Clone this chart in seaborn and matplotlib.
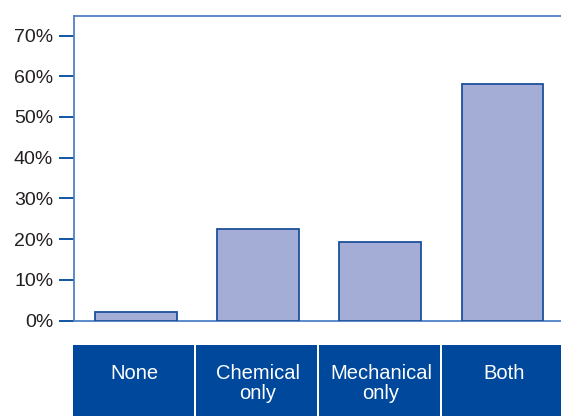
import matplotlib
matplotlib.use("Agg")
import matplotlib.pyplot as plt
import seaborn as sns
import pandas as pd
from matplotlib.ticker import FuncFormatter

# Share of respondents by type of control used
categories = ["None", "Chemical\nonly", "Mechanical\nonly", "Both"]
shares = [2.0, 22.4, 19.2, 58.2]
yticks = [0, 10, 20, 30, 40, 50, 60, 70]

sns.set_theme(style="white")
plt.rcParams["font.family"] = ["Liberation Sans", "DejaVu Sans"]

FILL = "#a3add6"
EDGE = "#1d4f9c"
SPINE = "#4f81c4"
BAND = "#00489b"
TEXT = "#231f20"

W, H = 561, 416
df = pd.DataFrame({"category": categories, "share": shares})

fig = plt.figure(figsize=(W / 100, H / 100), dpi=100)
ax = fig.add_axes([74 / W, 1 - 320.5 / H, 1 - 74 / W, (320.5 - 16) / H])

sns.barplot(data=df, x="category", y="share", ax=ax, color=FILL,
            width=0.67, edgecolor=EDGE, linewidth=1.3, saturation=1)

ax.set_ylim(0, 74.8)
ax.set_xlim(-0.51, 3.48)
ax.set_yticks(yticks)
ax.yaxis.set_major_formatter(FuncFormatter(lambda v, _: f"{v:.0f}%"))
ax.tick_params(axis="y", direction="out", length=11, width=1.3, color=BAND,
               labelsize=14, labelcolor=TEXT, pad=4, left=True)
ax.tick_params(axis="x", bottom=False, labelbottom=False)
ax.set_xlabel("")
ax.set_ylabel("")
for side in ("left", "bottom", "top"):
    ax.spines[side].set_visible(True)
    ax.spines[side].set_color(SPINE)
    ax.spines[side].set_linewidth(1.3)
ax.spines["right"].set_visible(False)
ax.spines["bottom"].set_zorder(0)

# Category band underneath the plot
band_left, band_top = 72.7, 344.5
cell = 123.2          # px per category cell
gap = 2.0 / cell      # white separator between cells
band_h = H - band_top
band = fig.add_axes([band_left / W, 0, 1 - band_left / W, band_h / H])
x0 = -0.5 + gap / 2
band.set_xlim(x0, x0 + (W - band_left) / cell)
band.set_ylim(0, 1)
band.bar(range(len(categories)), [1] * len(categories), width=1 - gap,
         color=BAND, linewidth=0)

first_baseline, line_step = 379.3, 20.0
for i, label in enumerate(categories):
    for k, line in enumerate(label.split("\n")):
        y_px = first_baseline + k * line_step
        band.text(i + 0.01, 1 - (y_px - band_top) / band_h, line,
                  ha="center", va="baseline", color="white", fontsize=14.5)
band.axis("off")

fig.savefig("out.png", dpi=100)
